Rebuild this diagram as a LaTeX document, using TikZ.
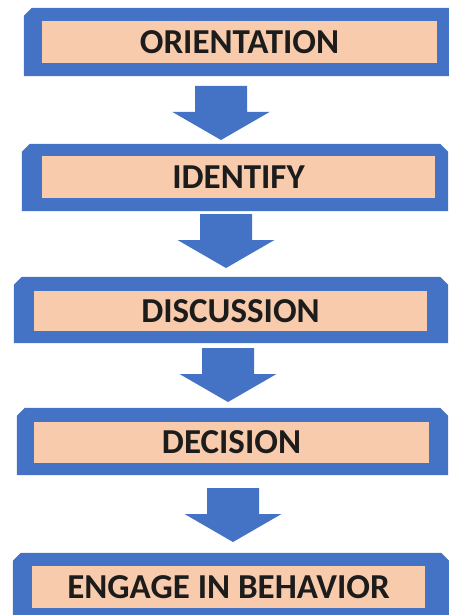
\documentclass[tikz,border=0pt]{standalone}
\usepackage{fontspec}
\setmainfont{Carlito}

\definecolor{boxblue}{HTML}{4472C4}
\definecolor{peach}{HTML}{F8CBAD}
\definecolor{txtdark}{HTML}{1C1C1C}

\tikzset{
  outerbox/.style={rectangle, draw=none, inner sep=0pt},
  innerbox/.style={rectangle, fill=peach, draw=none, inner sep=0pt,
    text=txtdark, font=\bfseries\fontsize{35}{38}\selectfont},
  blockarrow/.pic={
    \fill[boxblue] (-26,0) -- (26,0) -- (26,26) -- (48.5,26) -- (0,54)
      -- (-48.5,26) -- (-26,26) -- cycle;
  }
}

% blue frame with snipped top corners round a named node
\newcommand{\snipframe}[1]{%
  \fill[boxblue] (#1.south west) -- ([yshift=-8pt]#1.north west)
    -- ([xshift=8pt]#1.north west) -- ([xshift=-8pt]#1.north east)
    -- ([yshift=-8pt]#1.north east) -- (#1.south east) -- cycle;}

\begin{document}
\begin{tikzpicture}[x=1pt,y=-1pt]

\useasboundingbox (0,0) rectangle (449,615);
\clip (0,0) rectangle (449,615);

% frames
  \node[outerbox, minimum width=436pt, minimum height=68pt] (o1) at (242,42) {};
  \node[outerbox, minimum width=426pt, minimum height=67pt] (o2) at (235,177.5) {};
  \node[outerbox, minimum width=434pt, minimum height=66pt] (o3) at (231,310) {};
  \node[outerbox, minimum width=431pt, minimum height=67pt] (o4) at (232.5,441.5) {};
  \node[outerbox, minimum width=436pt, minimum height=69pt] (o5) at (231,587.5) {};

\foreach \o in {o1,o2,o3,o4,o5}
  \snipframe{\o};

% steps
  \node[innerbox, minimum width=395pt, minimum height=42pt] (b1) at (239.5,42) {ORIENTATION};
  \node[innerbox, minimum width=393pt, minimum height=42pt] (b2) at (238.5,177) {IDENTIFY};
  \node[innerbox, minimum width=393pt, minimum height=40pt] (b3) at (230.5,311) {DISCUSSION};
  \node[innerbox, minimum width=395pt, minimum height=41pt] (b4) at (231.5,442.5) {DECISION};
  \node[innerbox, minimum width=393pt, minimum height=42pt] (b5) at (228.5,587) {ENGAGE IN BEHAVIOR};

% block arrows
\coordinate (a1) at (221,86);
\coordinate (a2) at (226,214);
\coordinate (a3) at (228,348);
\coordinate (a4) at (233,488);

\foreach \a in {a1,a2,a3,a4}
  \pic at (\a) {blockarrow};

\end{tikzpicture}
\end{document}
